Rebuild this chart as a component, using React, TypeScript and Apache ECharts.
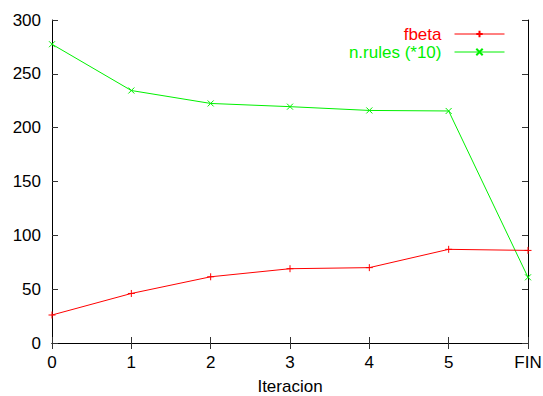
import React, { useEffect, useRef } from "react";
import * as echarts from "echarts";

const categories = ["0", "1", "2", "3", "4", "5", "FIN"];
const fbeta = [26, 46, 61.5, 69, 70, 87, 86];
const nRules = [277.5, 234.5, 222.5, 219.5, 216, 215.5, 61];
const yTicks = { min: 0, max: 300, interval: 50 };

const FONT = "Liberation Sans, Arial, sans-serif";
const RED = "#ff0000";
const GREEN = "#00f000";
const plusPath = "path://M0,5L10,5M5,0L5,10";
const crossPath = "path://M0,0L10,10M10,0L0,10";

export default function App() {
  const ref = useRef<HTMLDivElement>(null);
  useEffect(() => {
    const chart = echarts.init(ref.current!, null, { renderer: "svg" });
    const tickStyle = { show: true, inside: true, length: 6, lineStyle: { color: "#333", width: 1 } };
    chart.setOption({
      animation: false,
      grid: { left: 52, right: 15, top: 20, bottom: 53, containLabel: false, outerBoundsMode: "none" },
      legend: {
        orient: "vertical",
        right: 38,
        top: 25,
        padding: 0,
        align: "right",
        itemWidth: 50,
        itemHeight: 8,
        itemGap: 0,
        lineStyle: { width: 1 },
        textStyle: { fontFamily: FONT, fontSize: 17, lineHeight: 18, padding: [0, 8, 0, 0] },
        data: [
          { name: "fbeta", textStyle: { color: RED } },
          { name: "n.rules (*10)", textStyle: { color: GREEN } },
        ],
      },
      xAxis: [
        {
          type: "category",
          data: categories,
          boundaryGap: false,
          name: "Iteracion",
          nameLocation: "middle",
          nameGap: 35,
          nameTextStyle: { fontFamily: FONT, fontSize: 17, color: "#000" },
          axisLine: { lineStyle: { color: "#000", width: 1 } },
          axisTick: { ...tickStyle, alignWithLabel: true },
          axisLabel: { fontFamily: FONT, fontSize: 17, color: "#000", margin: 11, interval: 0 },
          splitLine: { show: false },
        },
        {
          type: "category",
          data: categories,
          boundaryGap: false,
          position: "top",
          axisLine: { lineStyle: { color: "#000", width: 1 } },
          axisTick: { ...tickStyle },
          axisLabel: { show: false },
          splitLine: { show: false },
        },
      ],
      yAxis: [
        {
          type: "value",
          ...yTicks,
          axisLine: { show: true, lineStyle: { color: "#000", width: 1 } },
          axisTick: tickStyle,
          axisLabel: { fontFamily: FONT, fontSize: 17, color: "#000", margin: 11 },
          splitLine: { show: false },
        },
        {
          type: "value",
          ...yTicks,
          position: "right",
          axisLine: { show: true, lineStyle: { color: "#000", width: 1 } },
          axisTick: tickStyle,
          axisLabel: { show: false },
          splitLine: { show: false },
        },
      ],
      series: [
        {
          name: "fbeta",
          type: "line",
          data: fbeta,
          symbol: plusPath,
          symbolSize: 7,
          lineStyle: { color: RED, width: 1 },
          itemStyle: { color: RED, borderColor: RED, borderWidth: 1 },
          z: 3,
        },
        {
          name: "n.rules (*10)",
          type: "line",
          data: nRules,
          symbol: crossPath,
          symbolSize: 6,
          lineStyle: { color: GREEN, width: 1 },
          itemStyle: { color: GREEN, borderColor: GREEN, borderWidth: 1 },
          z: 2,
        },
      ],
    });
    return () => chart.dispose();
  }, []);
  return <div ref={ref} style={{ width: 543, height: 396, position: "absolute", left: 0, top: 0, background: "#fff" }} />;
}
